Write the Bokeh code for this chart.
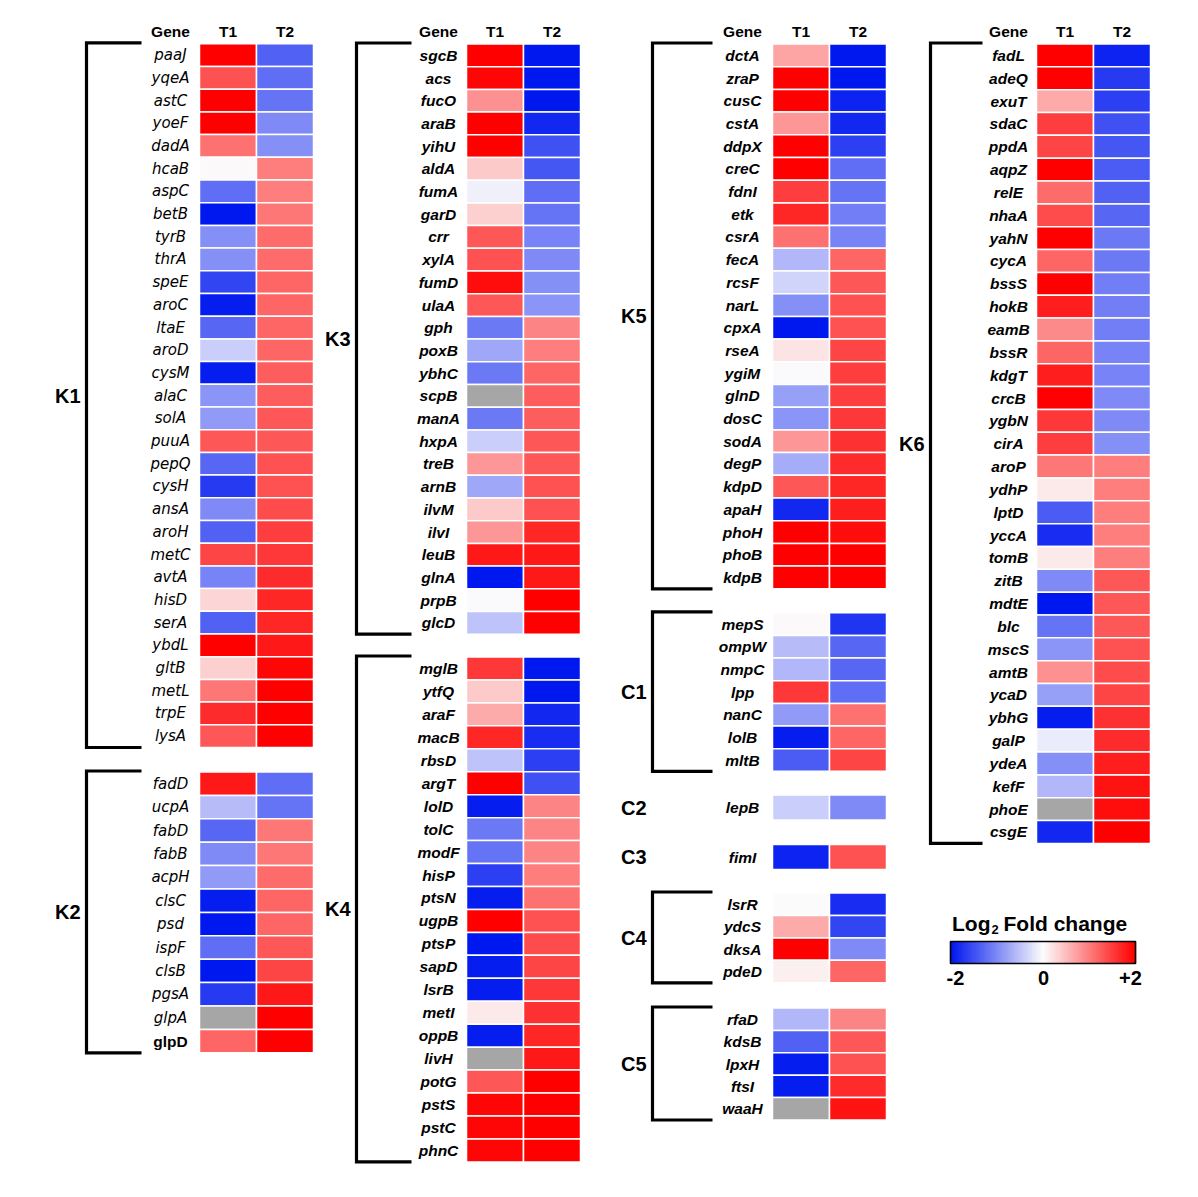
import numpy as np
from bokeh.plotting import figure
from bokeh.models import ColumnDataSource, Range1d, LinearColorMapper
from bokeh.core.properties import value
from bokeh.embed import file_html
from bokeh.resources import INLINE

NA = float("nan")

# ---------------- data: log2 fold change at T1 / T2 ----------------
k1_genes = ["paaJ", "yqeA", "astC", "yoeF", "dadA", "hcaB", "aspC", "betB", "tyrB", "thrA",
            "speE", "aroC", "ltaE", "aroD", "cysM", "alaC", "solA", "puuA", "pepQ", "cysH",
            "ansA", "aroH", "metC", "avtA", "hisD", "serA", "ybdL", "gltB", "metL", "trpE", "lysA"]
k1_t1 = [2.0, 1.35, 2.0, 2.0, 1.1, 0.02, -1.25, -2.0, -0.95, -0.95,
         -1.6, -1.95, -1.3, -0.4, -1.95, -0.9, -0.85, 1.3, -1.3, -1.7,
         -1.0, -1.35, 1.45, -1.05, 0.3, -1.35, 2.0, 0.35, 1.05, 1.65, 1.3]
k1_t2 = [-1.35, -1.25, -1.2, -1.0, -0.95, 1.0, 1.0, 1.05, 1.15, 1.15,
         1.2, 1.2, 1.2, 1.2, 1.25, 1.25, 1.3, 1.3, 1.35, 1.35,
         1.4, 1.5, 1.55, 1.65, 1.7, 1.7, 1.8, 1.95, 2.0, 2.0, 2.0]

k2_genes = ["fadD", "ucpA", "fabD", "fabB", "acpH", "clsC", "psd", "ispF", "clsB", "pgsA", "glpA", "glpD"]
k2_t1 = [1.8, -0.55, -1.3, -1.0, -0.85, -1.95, -2.0, -1.25, -2.0, -1.7, NA, 1.2]
k2_t2 = [-1.25, -1.2, 1.05, 1.05, 1.15, 1.2, 1.2, 1.3, 1.45, 1.8, 2.0, 2.0]

k3_genes = ["sgcB", "acs", "fucO", "araB", "yihU", "aldA", "fumA", "garD", "crr", "xylA",
            "fumD", "ulaA", "gph", "poxB", "ybhC", "scpB", "manA", "hxpA", "treB", "arnB",
            "ilvM", "ilvI", "leuB", "glnA", "prpB", "glcD"]
k3_t1 = [2.0, 1.95, 0.85, 2.0, 2.0, 0.4, -0.1, 0.35, 1.3, 1.35,
         1.9, 1.3, -1.15, -0.75, -1.15, NA, -1.15, -0.4, 0.8, -0.75,
         0.4, 0.8, 1.8, -2.0, -0.03, -0.5]
k3_t2 = [-2.0, -2.0, -2.0, -1.85, -1.5, -1.45, -1.25, -1.2, -1.05, -1.0,
         -0.95, -0.9, 0.95, 1.0, 1.2, 1.25, 1.25, 1.3, 1.3, 1.35,
         1.35, 1.7, 1.8, 1.8, 2.0, 2.0]

k4_genes = ["mglB", "ytfQ", "araF", "macB", "rbsD", "argT", "lolD", "tolC", "modF", "hisP",
            "ptsN", "ugpB", "ptsP", "sapD", "lsrB", "metI", "oppB", "livH", "potG", "pstS",
            "pstC", "phnC"]
k4_t1 = [1.55, 0.4, 0.65, 1.7, -0.5, 2.0, -1.95, -1.15, -1.2, -1.65,
         -1.95, 2.0, -2.0, -1.95, -1.95, 0.15, -1.95, NA, 1.3, 1.95,
         1.95, 1.95]
k4_t2 = [-2.0, -2.0, -1.85, -1.8, -1.65, -1.5, 0.95, 0.95, 0.95, 1.0,
         1.1, 1.35, 1.4, 1.45, 1.55, 1.6, 1.7, 1.8, 2.0, 2.0,
         2.0, 2.0]

k5_genes = ["dctA", "zraP", "cusC", "cstA", "ddpX", "creC", "fdnI", "etk", "csrA", "fecA",
            "rcsF", "narL", "cpxA", "rseA", "ygiM", "glnD", "dosC", "sodA", "degP", "kdpD",
            "apaH", "phoH", "phoB", "kdpB"]
k5_t1 = [0.7, 2.0, 2.0, 0.8, 2.0, 2.0, 1.5, 1.7, 1.1, -0.6,
         -0.35, -0.95, -2.0, 0.2, -0.03, -0.8, -0.9, 0.8, -0.7, 1.3,
         -1.85, 2.0, 2.0, 2.0]
k5_t2 = [-2.0, -2.0, -1.9, -1.85, -1.65, -1.25, -1.2, -1.1, -1.05, 1.2,
         1.3, 1.35, 1.35, 1.45, 1.5, 1.5, 1.55, 1.6, 1.65, 1.7,
         1.75, 1.9, 2.0, 2.0]

c1_genes = ["mepS", "ompW", "nmpC", "lpp", "nanC", "lolB", "mltB"]
c1_t1 = [0.03, -0.55, -0.6, 1.55, -0.85, -1.95, -1.4]
c1_t2 = [-1.75, -1.3, -1.3, -1.25, 1.1, 1.2, 1.45]

c2_genes = ["lepB"]
c2_t1 = [-0.4]
c2_t2 = [-1.0]

c3_genes = ["fimI"]
c3_t1 = [-1.9]
c3_t2 = [1.35]

c4_genes = ["lsrR", "ydcS", "dksA", "pdeD"]
c4_t1 = [0.0, 0.65, 2.0, 0.1]
c4_t2 = [-1.8, -1.6, -1.0, 1.2]

c5_genes = ["rfaD", "kdsB", "lpxH", "ftsI", "waaH"]
c5_t1 = [-0.6, -1.35, -1.95, -1.95, NA]
c5_t2 = [0.95, 1.3, 1.35, 1.65, 1.85]

k6_genes = ["fadL", "adeQ", "exuT", "sdaC", "ppdA", "aqpZ", "relE", "nhaA", "yahN", "cycA",
            "bssS", "hokB", "eamB", "bssR", "kdgT", "crcB", "ygbN", "cirA", "aroP", "ydhP",
            "lptD", "yccA", "tomB", "zitB", "mdtE", "blc", "mscS", "amtB", "ycaD", "ybhG",
            "galP", "ydeA", "kefF", "phoE", "csgE"]
k6_t1 = [2.0, 2.0, 0.65, 1.5, 1.45, 2.0, 1.15, 1.4, 2.0, 1.2,
         2.0, 1.75, 0.9, 1.2, 1.75, 2.0, 1.55, 1.5, 1.05, 0.15,
         -1.4, -1.8, 0.15, -1.0, -2.0, -1.2, -0.9, 0.85, -0.8, -1.95,
         -0.15, -0.95, -0.6, NA, -1.85]
k6_t2 = [-1.9, -1.7, -1.65, -1.5, -1.45, -1.4, -1.35, -1.3, -1.15, -1.15,
         -1.1, -1.1, -1.1, -1.05, -1.05, -1.0, -1.0, -0.95, 1.0, 1.0,
         1.0, 1.0, 1.0, 1.3, 1.3, 1.3, 1.35, 1.4, 1.45, 1.6,
         1.65, 1.75, 1.85, 1.9, 2.0]

time_points = ["T1", "T2"]
scale_ticks = ["-2", "0", "+2"]

# ---------------- page geometry ----------------
W, H = 1198, 1197
CELL_W = 57
# per panel column: gene-label centre, T1 cell left edge, bracket x, bracket arm end
COLS = {
    0: dict(gene_x=170, x0=199, bx=86, arm=141),
    1: dict(gene_x=438, x0=466, bx=356, arm=411),
    2: dict(gene_x=742, x0=772, bx=652, arm=712),
    3: dict(gene_x=1008, x0=1036, bx=930, arm=982),
}
# (label, genes, t1, t2, panel column, top y, row height, bracket)
BLOCKS = [
    ("K1", k1_genes, k1_t1, k1_t2, 0, 43.3, 22.7, True),
    ("K2", k2_genes, k2_t1, k2_t2, 0, 771.5, 23.4, True),
    ("K3", k3_genes, k3_t1, k3_t2, 1, 43.5, 22.7, True),
    ("K4", k4_genes, k4_t1, k4_t2, 1, 656.5, 22.95, True),
    ("K5", k5_genes, k5_t1, k5_t2, 2, 43.5, 22.7, True),
    ("C1", c1_genes, c1_t1, c1_t2, 2, 612.3, 22.65, True),
    ("C2", c2_genes, c2_t1, c2_t2, 2, 794.5, 25.0, False),
    ("C3", c3_genes, c3_t1, c3_t2, 2, 844.0, 25.0, False),
    ("C4", c4_genes, c4_t1, c4_t2, 2, 892.5, 22.45, True),
    ("C5", c5_genes, c5_t1, c5_t2, 2, 1007.5, 22.4, True),
    ("K6", k6_genes, k6_t1, k6_t2, 3, 43.5, 22.84, True),
]

# blue -> near white -> red, linear in RGB
def ramp(c0, c1, n):
    return [tuple(int(round(c0[k] + (c1[k] - c0[k]) * t)) for k in range(3))
            for t in np.linspace(0, 1, n)]

lo, mid, hi = (0, 24, 240), (252, 251, 252), (255, 0, 0)
rgb = ramp(lo, mid, 128) + ramp(mid, hi, 128)
palette = ["#%02x%02x%02x" % c for c in rgb]
mapper = LinearColorMapper(palette=palette, low=-2, high=2, nan_color="#a6a6a6")

p = figure(width=W, height=H, x_range=Range1d(0, W), y_range=Range1d(H, 0),
           output_backend="svg", toolbar_location=None, min_border=0,
           x_axis_location=None, y_axis_location=None)
p.grid.visible = False
p.outline_line_color = None
p.background_fill_color = "white"
p.border_fill_color = "white"

ARIAL = value("Liberation Sans")

# ---------------- cells, gene names, brackets ----------------
cell = dict(left=[], right=[], top=[], bottom=[], v=[])
names = {c: dict(x=[], y=[], t=[]) for c in COLS}
br_xs, br_ys = [], []
grp = dict(x=[], y=[], t=[])

for label, genes, t1, t2, col, top, rh, bracket in BLOCKS:
    g = COLS[col]
    for i, gene in enumerate(genes):
        y0 = top + i * rh
        for j, vals in enumerate((t1, t2)):
            cell["left"].append(g["x0"] + j * CELL_W)
            cell["right"].append(g["x0"] + (j + 1) * CELL_W)
            cell["top"].append(y0)
            cell["bottom"].append(y0 + rh)
            cell["v"].append(vals[i])
        names[col]["x"].append(g["gene_x"])
        names[col]["y"].append(y0 + rh / 2)
        names[col]["t"].append(gene)
    bottom = top + len(genes) * rh
    if bracket:
        bx, arm = g["bx"], g["arm"]
        br_xs.append([arm, bx, bx, arm])
        br_ys.append([top - 1, top - 1, bottom, bottom])
    grp["x"].append(g["bx"] - 6)
    grp["y"].append((top + bottom) / 2)
    grp["t"].append(label)

p.quad(left="left", right="right", top="top", bottom="bottom",
       source=ColumnDataSource(cell),
       fill_color={"field": "v", "transform": mapper},
       line_color="white", line_width=1.5)

p.multi_line(xs=br_xs, ys=br_ys, line_color="black", line_width=3.2,
             line_join="miter", line_cap="butt")

# group labels
p.text(x=grp["x"], y=grp["y"], text=grp["t"], text_align="right",
       text_baseline="middle", text_font=ARIAL, text_font_style="bold",
       text_font_size="20px", text_color="black")

# first panel: italic gene names (the last one set in bold)
n0 = names[0]
p.text(x=n0["x"][:-1], y=n0["y"][:-1], text=n0["t"][:-1], text_align="center",
       text_baseline="middle", text_font=value("DejaVu Sans"), text_font_style="italic",
       text_font_size="15px", text_color="black")
p.text(x=n0["x"][-1:], y=n0["y"][-1:], text=n0["t"][-1:], text_align="center",
       text_baseline="middle", text_font=ARIAL, text_font_style="bold",
       text_font_size="15.5px", text_color="black")
for c in (1, 2, 3):
    n = names[c]
    p.text(x=n["x"], y=n["y"], text=n["t"], text_align="center",
           text_baseline="middle", text_font=ARIAL, text_font_style="bold italic",
           text_font_size="15.5px", text_color="black")

# column headers
hx, ht = [], []
for c, g in COLS.items():
    hx += [g["gene_x"], g["x0"] + CELL_W / 2, g["x0"] + 1.5 * CELL_W]
    ht += ["Gene"] + time_points
p.text(x=hx, y=[31] * len(hx), text=ht, text_align="center",
       text_baseline="middle", text_font=ARIAL, text_font_style="bold",
       text_font_size="15.5px", text_color="black")

# ---------------- colour key ----------------
kx0, kx1, ky0, ky1 = 950, 1135, 941, 963
steps = np.linspace(-2, 2, 185)
edges = np.linspace(kx0, kx1, len(steps) + 1)
key = ColumnDataSource(dict(v=steps, l=edges[:-1], r=edges[1:] + 0.6))
p.quad(left="l", right="r", top=ky0, bottom=ky1, source=key,
       fill_color={"field": "v", "transform": mapper}, line_color=None)
p.quad(left=[kx0], right=[kx1], top=[ky0], bottom=[ky1], fill_color=None,
       line_color="black", line_width=1.6)

p.text(x=[990], y=[923], text=["Log"], text_align="right", text_baseline="alphabetic",
       text_font=ARIAL, text_font_style="bold", text_font_size="21px", text_color="black")
p.text(x=[991], y=[928.5], text=["2"], text_align="left", text_baseline="alphabetic",
       text_font=ARIAL, text_font_style="bold", text_font_size="13px", text_color="black")
p.text(x=[1003], y=[923], text=["Fold change"], text_align="left", text_baseline="alphabetic",
       text_font=ARIAL, text_font_style="bold", text_font_size="21px", text_color="black")
p.text(x=[955, 1043, 1130], y=[977, 977, 977], text=scale_ticks, text_align="center",
       text_baseline="middle", text_font=ARIAL, text_font_style="bold",
       text_font_size="20px", text_color="black")

open("out.html", "w").write(file_html(p, INLINE))
